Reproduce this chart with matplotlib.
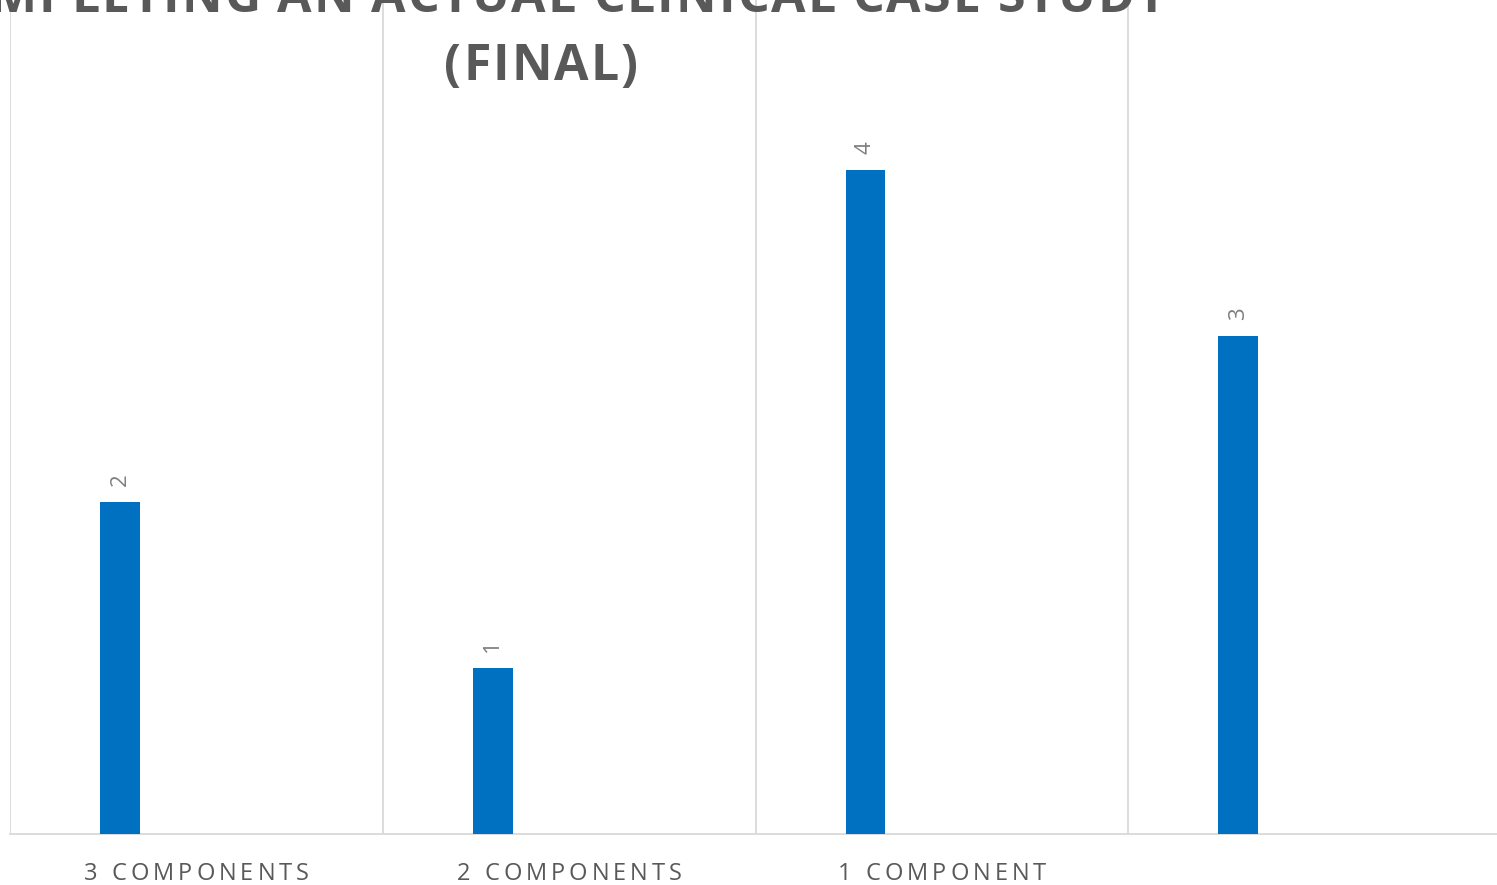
import matplotlib.pyplot as plt
from matplotlib.font_manager import FontProperties

# Component counts per case study
categories = ["3 COMPONENTS", "2 COMPONENTS", "1 COMPONENT", ""]
counts = [2, 1, 4, 3]
title_lines = ["COMPLETING AN ACTUAL CLINICAL CASE STUDY", "(FINAL)"]

W, H = 1497, 885
bar_color = "#0070c0"
text_gray = "#595959"
label_gray = "#7f7f7f"
grid_gray = "#d9d9d9"
family = ['Open Sans', 'DejaVu Sans']

plt.rcParams['font.family'] = family

fig = plt.figure(figsize=(W / 100, H / 100), dpi=100)
renderer = fig.canvas.get_renderer()


def tracked_text(x_px, y_px, s, tracking, size, weight='normal', color=text_gray):
    """Draw s centred at x_px (baseline y_px, pixels from top) with extra letter spacing."""
    fp = FontProperties(family=family, size=size, weight=weight)

    def width(t):
        if not t.strip():
            return 0.0
        return renderer.get_text_width_height_descent(t, fp, ismath=False)[0]

    starts = [width(s[:k + 1]) - width(s[k]) for k in range(len(s))]
    total = width(s) + tracking * (len(s) - 1)
    left = x_px - total / 2
    for k, ch in enumerate(s):
        if ch == ' ':
            continue
        fig.text((left + starts[k] + k * tracking) / W, 1 - y_px / H, ch,
                 ha='left', va='baseline', fontproperties=fp, color=color)


# plot area runs past the right edge of the canvas
ax = fig.add_axes([10 / W, 51 / H, 1491 / W, 834 / H])

x = list(range(len(categories)))
offset = -0.205
bars = ax.bar([i + offset for i in x], counts, width=0.107, color=bar_color, zorder=3)

ax.set_xlim(-0.5, len(categories) - 0.5)
ax.set_ylim(0, 834 / 166)

# vertical separators between categories
for b in range(len(categories)):
    ax.axvline(b - 0.5, color=grid_gray, lw=1.3, zorder=1)

for s in ['top', 'right', 'left']:
    ax.spines[s].set_visible(False)
ax.spines['bottom'].set_color(grid_gray)
ax.spines['bottom'].set_linewidth(1.3)
ax.set_xticks([])
ax.set_yticks([])

for rect, v in zip(bars, counts):
    ax.annotate(str(v), (rect.get_x() + rect.get_width() / 2, v),
                xytext=(0, 16), textcoords='offset pixels',
                ha='center', va='bottom', rotation=90,
                fontsize=16, color=label_gray)

# category names under each group
for i, name in zip(x, categories):
    if not name:
        continue
    cx = ax.transData.transform((i, 0))[0]
    tracked_text(cx, 880, name, 4.0, 17)

tracked_text(541, 12, title_lines[0], 2.0, 36, weight='bold')
tracked_text(541, 80, title_lines[1], 2.0, 36, weight='bold')

fig.savefig("out.png", dpi=100)
